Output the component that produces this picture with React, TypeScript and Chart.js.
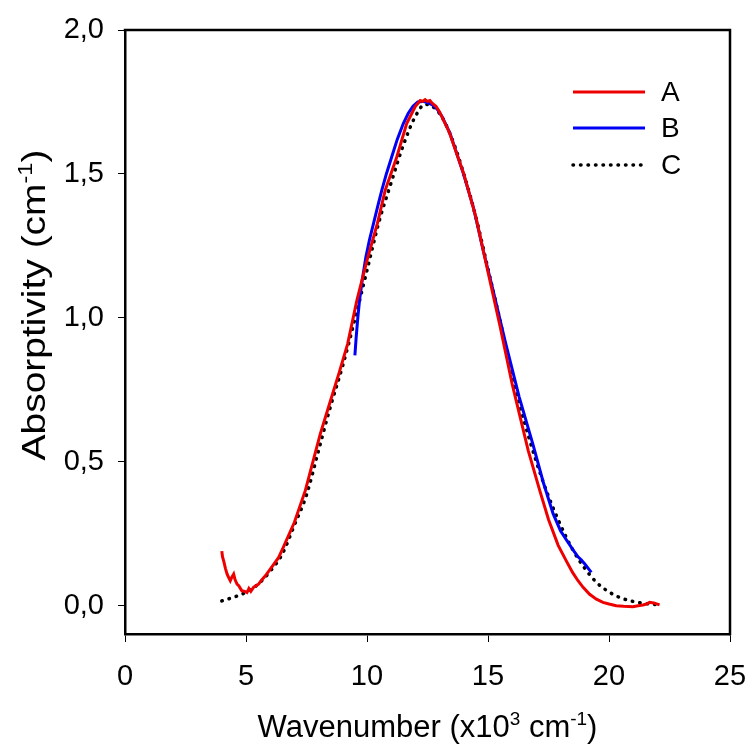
import React, { useEffect, useRef } from 'react';
import { Chart, registerables } from 'chart.js';

Chart.register(...registerables);

// ---- Data ----
const seriesNames = ['A', 'B', 'C'];

const aX = [4.0, 4.03, 4.08, 4.15, 4.22, 4.3, 4.35, 4.42, 4.49, 4.55, 4.63, 4.7, 4.83, 4.95, 5.04, 5.12, 5.2, 5.31, 5.42, 5.52, 5.65, 5.8, 6.07, 6.35, 6.55, 7.0, 7.45, 8.07, 8.5, 8.85, 9.2, 9.58, 10.0, 10.43, 10.75, 11.23, 11.64, 12.0, 12.1, 12.2, 12.3, 12.4, 12.5, 12.6, 12.7, 12.85, 13.0, 13.4, 14.0, 14.5, 15.0, 15.5, 16.0, 16.66, 17.14, 17.5, 17.9, 18.24, 18.5, 18.72, 18.93, 19.2, 19.48, 19.75, 20.0, 20.3, 20.6, 20.99, 21.2, 21.4, 21.55, 21.68, 21.85, 22.09];
const aY = [0.19, 0.17, 0.155, 0.13, 0.11, 0.095, 0.087, 0.10, 0.11, 0.09, 0.075, 0.07, 0.052, 0.05, 0.046, 0.06, 0.05, 0.064, 0.07, 0.075, 0.09, 0.104, 0.135, 0.168, 0.205, 0.29, 0.40, 0.597, 0.715, 0.81, 0.91, 1.06, 1.20, 1.328, 1.443, 1.559, 1.675, 1.735, 1.745, 1.755, 1.752, 1.758, 1.752, 1.755, 1.745, 1.735, 1.715, 1.645, 1.50, 1.35, 1.16, 0.97, 0.77, 0.54, 0.40, 0.30, 0.21, 0.155, 0.115, 0.087, 0.064, 0.04, 0.023, 0.012, 0.006, 0.0, -0.002, -0.003, 0.0, 0.003, 0.006, 0.012, 0.01, 0.003];

const bX = [9.5, 9.55, 9.62, 9.69, 9.8, 9.95, 10.1, 10.27, 10.45, 10.61, 10.8, 11.02, 11.25, 11.5, 11.7, 11.9, 12.1, 12.3, 12.5, 12.7, 12.9, 13.1, 13.43, 13.98, 14.39, 14.8, 15.21, 15.7, 16.29, 16.86, 17.28, 17.69, 18.0, 18.31, 18.55, 18.72, 18.85, 19.0, 19.27];
const bY = [0.87, 0.93, 1.0, 1.06, 1.13, 1.21, 1.27, 1.328, 1.39, 1.443, 1.50, 1.559, 1.62, 1.675, 1.71, 1.735, 1.75, 1.752, 1.748, 1.74, 1.725, 1.70, 1.641, 1.502, 1.386, 1.235, 1.096, 0.922, 0.725, 0.56, 0.43, 0.32, 0.26, 0.22, 0.19, 0.17, 0.16, 0.145, 0.116];

const cX = [4.0, 4.5, 5.0, 5.5, 6.0, 6.5, 7.0, 7.5, 8.0, 8.5, 9.0, 9.5, 10.0, 10.5, 11.0, 11.5, 12.0, 12.4, 13.0, 13.5, 14.0, 14.5, 15.0, 15.5, 16.0, 16.5, 17.0, 17.5, 18.0, 18.5, 19.0, 19.5, 20.0, 20.5, 21.0, 21.5, 22.0];
const cY = [0.017, 0.03, 0.047, 0.075, 0.12, 0.18, 0.28, 0.385, 0.54, 0.695, 0.835, 0.995, 1.165, 1.335, 1.47, 1.60, 1.70, 1.742, 1.71, 1.625, 1.50, 1.35, 1.17, 0.99, 0.80, 0.64, 0.50, 0.38, 0.28, 0.195, 0.13, 0.08, 0.048, 0.027, 0.015, 0.008, 0.004];

const yTickValues = [0, 0.5, 1.0, 1.5, 2.0];
const xTickStep = 5;

const FONT = '"Liberation Sans", Arial, Helvetica, sans-serif';

type Part = [string, boolean];
const xTitleParts: Part[] = [['Wavenumber (x10', false], ['3', true], [' cm', false], ['-1', true], [')', false]];
const yTitleParts: Part[] = [['Absorptivity (cm', false], ['-1', true], [')', false]];

function drawRich(ctx: CanvasRenderingContext2D, parts: Part[], cx: number, baseY: number, size: number) {
  const supSize = Math.round(size * 0.62);
  const widths = parts.map(([t, sup]) => {
    ctx.font = `${sup ? supSize : size}px ${FONT}`;
    return ctx.measureText(t).width;
  });
  const total = widths.reduce((s, w) => s + w, 0);
  let x = cx - total / 2;
  ctx.textAlign = 'left';
  ctx.textBaseline = 'alphabetic';
  parts.forEach(([t, sup], i) => {
    ctx.font = `${sup ? supSize : size}px ${FONT}`;
    ctx.fillText(t, x, sup ? baseY - size * 0.4 : baseY);
    x += widths[i];
  });
}

const boxPlugin = {
  id: 'boxFrame',
  afterDatasetsDraw(chart: any) {
    const { ctx, chartArea } = chart;
    ctx.save();
    ctx.strokeStyle = '#000';
    ctx.lineWidth = 2.5;
    ctx.beginPath();
    ctx.moveTo(chartArea.left - 1.25, chartArea.top);
    ctx.lineTo(chartArea.right, chartArea.top);
    ctx.lineTo(chartArea.right, chartArea.bottom + 1.25);
    ctx.stroke();
    ctx.restore();
  },
};

const titlePlugin = {
  id: 'axisTitles',
  afterDraw(chart: any) {
    const { ctx, chartArea } = chart;
    ctx.save();
    ctx.fillStyle = '#000';
    const cx = (chartArea.left + chartArea.right) / 2;
    drawRich(ctx, xTitleParts, cx, 737, 31);
    ctx.translate(45, 305);
    ctx.rotate(-Math.PI / 2);
    ctx.scale(1.18, 1);
    drawRich(ctx, yTitleParts, 0, 0, 33);
    ctx.restore();
  },
};

const legendPlugin = {
  id: 'insideLegend',
  afterDraw(chart: any) {
    const { ctx } = chart;
    const rows = [92, 128, 165];
    ctx.save();
    chart.data.datasets.forEach((ds: any, i: number) => {
      const y = rows[i];
      ctx.strokeStyle = ds.borderColor;
      ctx.lineWidth = ds.borderWidth;
      ctx.lineCap = ds.borderCapStyle || 'butt';
      ctx.setLineDash(ds.borderDash || []);
      ctx.beginPath();
      ctx.moveTo(573, y);
      ctx.lineTo(645, y);
      ctx.stroke();
      ctx.setLineDash([]);
      ctx.fillStyle = '#000';
      ctx.font = `28px ${FONT}`;
      ctx.textAlign = 'left';
      ctx.textBaseline = 'middle';
      ctx.fillText(ds.label, 661, y + 1);
    });
    ctx.restore();
  },
};

const toPts = (xs: number[], ys: number[]) => xs.map((x, i) => ({ x, y: ys[i] }));

export default function App() {
  const ref = useRef<HTMLCanvasElement>(null);
  useEffect(() => {
    const chart = new Chart(ref.current!, {
      type: 'line',
      data: {
        datasets: [
          {
            label: seriesNames[0],
            data: toPts(aX, aY),
            borderColor: 'rgb(238,0,0)',
            borderWidth: 3,
            pointRadius: 0,
            tension: 0,
          },
          {
            label: seriesNames[1],
            data: toPts(bX, bY),
            borderColor: 'rgb(0,0,245)',
            borderWidth: 3,
            pointRadius: 0,
            tension: 0,
          },
          {
            label: seriesNames[2],
            data: toPts(cX, cY),
            borderColor: '#000',
            borderWidth: 3.5,
            borderDash: [0.5, 7],
            borderCapStyle: 'round',
            pointRadius: 0,
            cubicInterpolationMode: 'monotone',
          },
        ],
      } as any,
      options: {
        responsive: false,
        animation: false,
        devicePixelRatio: 1,
        layout: { padding: { top: 30, right: 21, left: 0, bottom: 0 } },
        plugins: { legend: { display: false }, tooltip: { enabled: false } },
        scales: {
          x: {
            type: 'linear',
            min: 0,
            max: 25,
            ticks: {
              stepSize: xTickStep,
              color: '#000',
              font: { family: FONT, size: 29 },
              padding: 18,
              maxRotation: 0,
              callback: (v: any) => String(v),
            },
            grid: { drawOnChartArea: false, drawTicks: true, tickLength: 8, color: '#000', lineWidth: 1 },
            border: { display: true, color: '#000', width: 2.5 },
            afterFit: (s: any) => { s.height = 110; s.paddingLeft = 0; s.paddingRight = 0; },
          },
          y: {
            type: 'linear',
            min: -0.098,
            max: 2.0,
            afterBuildTicks: (s: any) => { s.ticks = yTickValues.map((v) => ({ value: v })); },
            ticks: {
              color: '#000',
              font: { family: FONT, size: 29 },
              padding: 14,
              callback: (v: any) => Number(v).toFixed(1).replace('.', ','),
            },
            grid: { drawOnChartArea: false, drawTicks: true, tickLength: 7, color: '#000', lineWidth: 1 },
            border: { display: true, color: '#000', width: 2.5 },
            afterFit: (s: any) => { s.width = 125; s.paddingTop = 0; s.paddingBottom = 0; },
          },
        },
      } as any,
      plugins: [boxPlugin, titlePlugin, legendPlugin],
    });
    return () => chart.destroy();
  }, []);
  return (
    <div style={{ position: 'fixed', left: 0, top: 0, width: 751, height: 744, background: '#fff' }}>
      <canvas ref={ref} width={751} height={744} style={{ width: 751, height: 744, display: 'block' }} />
    </div>
  );
}
